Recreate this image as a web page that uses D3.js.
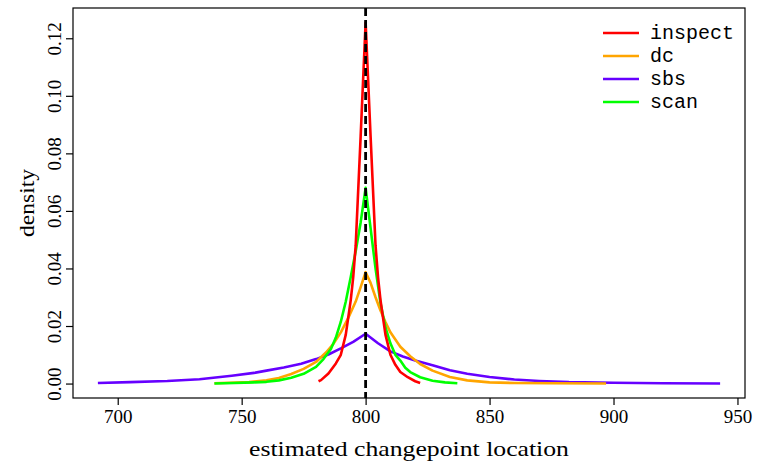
<!DOCTYPE html>
<html>
<head>
<meta charset="utf-8">
<script src="https://cdn.jsdelivr.net/npm/d3@7"></script>
<style>
  body { margin: 0; background: #fff; }
  svg { display: block; }
  .tick-label { font-family: "Liberation Serif", "DejaVu Serif", serif; font-size: 19px; fill: #000; }
  .axis-title { font-family: "Liberation Serif", "DejaVu Serif", serif; font-size: 22px; fill: #000; }
  .legend-label { font-family: "Liberation Mono", "DejaVu Sans Mono", monospace; font-size: 20px; fill: #000; }
</style>
</head>
<body>
<svg width="757" height="463"></svg>
<script>
// series names + colours (legend order)
const seriesNames = ["inspect", "dc", "sbs", "scan"];
const seriesColors = ["#ff0000", "#ffa500", "#6600ff", "#00ff00"];

// estimated density curves
const inspectX = [781, 782, 785, 788, 790, 792, 794, 795, 796, 798, 800, 802, 804, 805, 806, 808, 810, 812, 814, 817, 820, 822];
const inspectY = [0.0008, 0.0012, 0.0035, 0.0070, 0.0100, 0.0170, 0.0290, 0.0370, 0.0480, 0.0860, 0.1255, 0.0860, 0.0480, 0.0370, 0.0290, 0.0170, 0.0100, 0.0065, 0.0040, 0.0022, 0.0008, 0.0002];

const dcX = [739, 745, 753, 760, 765, 770, 775, 780, 784, 787, 790, 793, 796, 798, 800, 802, 804, 806, 808, 810, 814, 818, 822, 827, 834, 841, 850, 860, 875, 897];
const dcY = [0.0001, 0.0003, 0.0005, 0.0011, 0.0019, 0.0033, 0.0051, 0.0075, 0.0108, 0.0138, 0.0178, 0.0228, 0.0285, 0.0335, 0.0387, 0.0350, 0.0300, 0.0254, 0.0214, 0.0178, 0.0128, 0.0095, 0.0068, 0.0045, 0.0023, 0.0011, 0.0004, 0.0002, 0.0001, 0.0000];

const sbsX = [692, 705, 720, 733, 746, 755, 760, 767, 774, 780, 785, 790, 795, 800, 805, 810, 815, 820, 827, 834, 841, 850, 860, 870, 882, 900, 920, 943];
const sbsY = [0.0002, 0.0005, 0.0009, 0.0015, 0.0027, 0.0037, 0.0045, 0.0056, 0.0069, 0.0085, 0.0101, 0.0122, 0.0145, 0.0173, 0.0140, 0.0112, 0.0094, 0.0080, 0.0064, 0.0046, 0.0034, 0.0023, 0.0014, 0.0009, 0.0005, 0.0003, 0.0001, 0.0000];

const scanX = [739, 747, 755, 760, 765, 770, 775, 780, 783, 786, 788, 790, 792, 794, 796, 798, 800, 802, 804, 806, 808, 810, 812, 814, 816, 818, 822, 827, 832, 837];
const scanY = [0.0000, 0.0002, 0.0004, 0.0006, 0.0011, 0.0020, 0.0034, 0.0058, 0.0085, 0.0120, 0.0160, 0.0215, 0.0285, 0.0370, 0.0460, 0.0560, 0.0680, 0.0540, 0.0400, 0.0280, 0.0195, 0.0140, 0.0100, 0.0080, 0.0055, 0.0040, 0.0022, 0.0010, 0.0004, 0.0001];

const xTicks = [700, 750, 800, 850, 900, 950];
const yTicks = [0, 0.02, 0.04, 0.06, 0.08, 0.10, 0.12];
const truth = 800;

var zip = function(xs, ys){
  return xs.map((x, i) => ({x: x, y: ys[i]}));
}

var draw = function(){
  const svg = d3.select('svg');

  const box = {left: 73, right: 745, top: 8, bottom: 398};

  // R style axis ranges: data range padded by 4%
  const allX = [].concat(inspectX, dcX, sbsX, scanX);
  const allY = [].concat(inspectY, dcY, sbsY, scanY);
  const xr = d3.extent(allX), yr = [0, d3.max(allY)];
  const xpad = (xr[1] - xr[0]) * 0.04, ypad = (yr[1] - yr[0]) * 0.04;

  const xScale = d3.scaleLinear()
    .domain([xr[0] - xpad, xr[1] + xpad])
    .range([box.left, box.right]);

  const yScale = d3.scaleLinear()
    .domain([yr[0] - ypad, yr[1] + ypad])
    .range([box.bottom, box.top]);

  const series = [
    zip(inspectX, inspectY),
    zip(dcX, dcY),
    zip(sbsX, sbsY),
    zip(scanX, scanY)
  ];

  const line = d3.line()
    .x(d => xScale(d.x))
    .y(d => yScale(d.y));

  // draw order: sbs, dc, scan, inspect
  [2, 1, 3, 0].forEach(function(k){
    svg.append('path')
      .datum(series[k])
      .attr('fill', 'none')
      .attr('stroke', seriesColors[k])
      .attr('stroke-width', 2.6)
      .attr('stroke-linejoin', 'round')
      .attr('d', line);
  });

  // true changepoint
  svg.append('line')
    .attr('x1', xScale(truth))
    .attr('x2', xScale(truth))
    .attr('y1', box.top)
    .attr('y2', box.bottom)
    .attr('stroke', '#000')
    .attr('stroke-width', 2.8)
    .attr('stroke-dasharray', '8,4');

  // x axis
  const xAxis = d3.axisBottom(xScale)
    .tickValues(xTicks)
    .tickSize(7)
    .tickPadding(5)
    .tickFormat(d3.format('d'));

  const gx = svg.append('g')
    .attr('transform', `translate(0, ${box.bottom})`)
    .call(xAxis);
  gx.select('.domain').remove();
  gx.selectAll('line').attr('stroke', '#000').attr('stroke-width', 1.2);
  gx.selectAll('text')
    .attr('class', 'tick-label')
    .attr('font-family', null).attr('font-size', null)
    .attr('dy', '0.71em');

  // y axis
  const yAxis = d3.axisLeft(yScale)
    .tickValues(yTicks)
    .tickSize(7)
    .tickFormat(d3.format('.2f'));

  const gy = svg.append('g')
    .attr('transform', `translate(${box.left}, 0)`)
    .call(yAxis);
  gy.select('.domain').remove();
  gy.selectAll('line').attr('stroke', '#000').attr('stroke-width', 1.2);
  gy.selectAll('text')
    .attr('class', 'tick-label')
    .attr('font-family', null).attr('font-size', null)
    .attr('x', null).attr('dy', null)
    .attr('text-anchor', 'middle')
    .attr('transform', 'translate(-12, 0) rotate(-90)');

  // frame
  svg.append('rect')
    .attr('x', box.left)
    .attr('y', box.top)
    .attr('width', box.right - box.left)
    .attr('height', box.bottom - box.top)
    .attr('fill', 'none')
    .attr('stroke', '#000')
    .attr('stroke-width', 1.2);

  // axis titles (Computer Modern is wider than Times, so stretch a bit)
  svg.append('text')
    .attr('class', 'axis-title')
    .attr('x', (box.left + box.right) / 2)
    .attr('y', 456)
    .attr('text-anchor', 'middle')
    .attr('textLength', 320)
    .attr('lengthAdjust', 'spacingAndGlyphs')
    .text('estimated changepoint location');

  svg.append('text')
    .attr('class', 'axis-title')
    .attr('transform', `translate(34, ${(box.top + box.bottom) / 2}) rotate(-90)`)
    .attr('text-anchor', 'middle')
    .attr('textLength', 68)
    .attr('lengthAdjust', 'spacingAndGlyphs')
    .text('density');

  // legend
  const legend = svg.append('g');
  seriesNames.forEach(function(name, i){
    const y = 33 + i * 23;
    legend.append('line')
      .attr('x1', 603).attr('x2', 639)
      .attr('y1', y).attr('y2', y)
      .attr('stroke', seriesColors[i])
      .attr('stroke-width', 2.6);
    legend.append('text')
      .attr('class', 'legend-label')
      .attr('x', 650)
      .attr('y', y)
      .attr('dy', '0.32em')
      .text(name);
  });
}

draw();
</script>
</body>
</html>
